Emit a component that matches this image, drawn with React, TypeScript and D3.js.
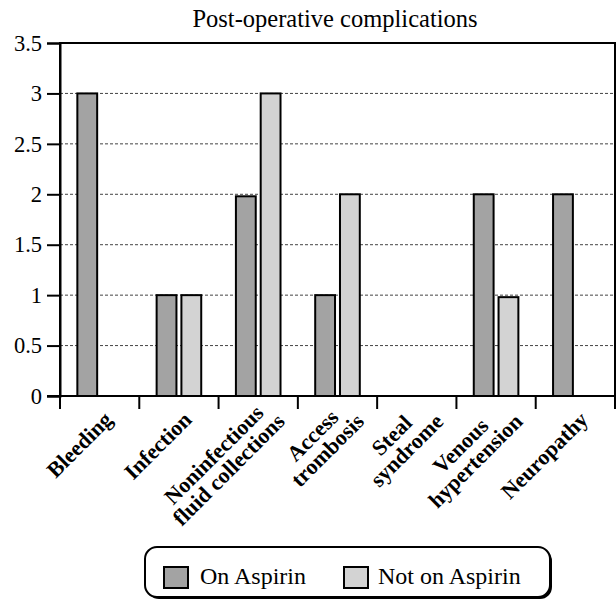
import React, { useRef, useEffect } from "react";
import * as d3 from "d3";

const categories = [
  ["Bleeding"],
  ["Infection"],
  ["Noninfectious", "fluid collections"],
  ["Access", "trombosis"],
  ["Steal", "syndrome"],
  ["Venous", "hypertension"],
  ["Neuropathy"],
];
const seriesNames = ["On Aspirin", "Not on Aspirin"];
const onAspirin = [3, 1, 1.98, 1, 0, 2, 2];
const notOnAspirin = [0, 1, 3, 2, 0, 0.98, 0];
const yTicks = [0, 0.5, 1, 1.5, 2, 2.5, 3, 3.5];

const colors = ["#a3a3a3", "#d3d3d3"];
const font = "Liberation Serif, Times New Roman, serif";

const App = () => {
  const svgRef = useRef(null);

  useEffect(() => {
    const width = 616;
    const height = 611;
    const m = { left: 60, right: 615, top: 43, bottom: 396 };

    const svg = d3
      .select(svgRef.current)
      .attr("width", width)
      .attr("height", height)
      .attr("font-family", font);
    svg.selectAll("*").remove();

    const keys = categories.map((c) => c.join(" "));
    const x0 = d3.scaleBand().domain(keys).range([m.left, m.right]).padding(0);
    const x1 = d3
      .scaleBand()
      .domain(seriesNames)
      .range([0, x0.bandwidth()])
      .paddingInner(0.2)
      .paddingOuter(0.7);
    const y = d3.scaleLinear().domain([0, 3.5]).range([m.bottom, m.top]);

    // title
    svg
      .append("text")
      .attr("x", 335)
      .attr("y", 27)
      .attr("text-anchor", "middle")
      .attr("font-size", 24.5)
      .text("Post-operative complications");

    // gridlines
    svg
      .append("g")
      .selectAll("line")
      .data(yTicks.filter((t) => t > 0 && t < 3.5))
      .enter()
      .append("line")
      .attr("x1", m.left)
      .attr("x2", m.right)
      .attr("y1", (d) => y(d))
      .attr("y2", (d) => y(d))
      .attr("stroke", "#444")
      .attr("stroke-width", 1)
      .attr("stroke-dasharray", "3,2");

    // bars
    const rows = keys.map((k, i) => ({ key: k, values: [onAspirin[i], notOnAspirin[i]] }));
    const groups = svg
      .append("g")
      .selectAll("g")
      .data(rows)
      .enter()
      .append("g")
      .attr("transform", (d) => `translate(${x0(d.key)},0)`);

    groups
      .selectAll("rect")
      .data((d) => d.values.map((v, j) => ({ name: seriesNames[j], value: v, j })))
      .enter()
      .filter((d) => d.value > 0)
      .append("rect")
      .attr("x", (d) => x1(d.name))
      .attr("y", (d) => y(d.value))
      .attr("width", x1.bandwidth())
      .attr("height", (d) => y(0) - y(d.value))
      .attr("fill", (d) => colors[d.j])
      .attr("stroke", "#000")
      .attr("stroke-width", 2);

    // frame
    svg
      .append("path")
      .attr("d", `M${m.left},${m.bottom}V${m.top}H${m.right}V${m.bottom}`)
      .attr("fill", "none")
      .attr("stroke", "#000")
      .attr("stroke-width", 2);

    // y axis
    const yAxis = svg
      .append("g")
      .attr("transform", `translate(${m.left},0)`)
      .call(d3.axisLeft(y).tickValues(yTicks).tickSize(13).tickPadding(5).tickFormat(d3.format("")));
    yAxis.attr("font-family", font).attr("font-size", 22.5);
    yAxis.select(".domain").attr("stroke-width", 2);
    yAxis.selectAll(".tick line").attr("stroke-width", 2);
    yAxis.selectAll("text").attr("fill", "#000");

    // x axis
    const xAxis = svg
      .append("g")
      .attr("transform", `translate(0,${m.bottom})`)
      .call(d3.axisBottom(x0).tickValues([]).tickSizeOuter(0));
    xAxis.select(".domain").attr("stroke-width", 2).attr("d", `M${m.left - 13},0H${m.right}`);
    svg
      .append("g")
      .selectAll("line")
      .data(d3.range(keys.length + 1))
      .enter()
      .append("line")
      .attr("x1", (i) => m.left + i * x0.step())
      .attr("x2", (i) => m.left + i * x0.step())
      .attr("y1", m.bottom)
      .attr("y2", m.bottom + 13)
      .attr("stroke", "#000")
      .attr("stroke-width", 2);

    // x labels: block right-aligned at anchor, lines centred within block
    const lineH = 21;
    const fs = 22;
    const labels = svg
      .append("g")
      .selectAll("g")
      .data(categories)
      .enter()
      .append("g")
      .attr("transform", (d, i) => `translate(${x0(keys[i]) + x0.bandwidth() / 2 + 14},${m.bottom + 25}) rotate(-45)`)
      .attr("font-size", fs)
      .attr("font-weight", "bold");
    labels.each(function (d) {
      const g = d3.select(this);
      const n = d.length;
      const texts = d.map((t, k) =>
        g
          .append("text")
          .attr("text-anchor", "middle")
          .attr("y", k * lineH - 10 * (n - 1))
          .text(t)
      );
      const w = d3.max(texts, (t) => t.node().getComputedTextLength());
      texts.forEach((t) => t.attr("x", -w / 2 + 8.5 * (n - 1)));
    });

    // legend
    const lg = svg.append("g");
    lg.append("rect")
      .attr("x", 147)
      .attr("y", 549)
      .attr("width", 405)
      .attr("height", 50)
      .attr("rx", 12)
      .attr("fill", "#000");
    lg.append("rect")
      .attr("x", 145)
      .attr("y", 547)
      .attr("width", 405)
      .attr("height", 50)
      .attr("rx", 12)
      .attr("fill", "#fff")
      .attr("stroke", "#000")
      .attr("stroke-width", 2);
    const items = [
      { name: seriesNames[0], sx: 164, tx: 200 },
      { name: seriesNames[1], sx: 344, tx: 378 },
    ];
    items.forEach((it, i) => {
      lg.append("rect")
        .attr("x", it.sx)
        .attr("y", 567)
        .attr("width", 24)
        .attr("height", 21)
        .attr("fill", colors[i])
        .attr("stroke", "#000")
        .attr("stroke-width", 2);
      lg.append("text")
        .attr("x", it.tx)
        .attr("y", 584)
        .attr("font-size", 24)
        .text(it.name);
    });
  }, []);

  return (
    <div style={{ position: "absolute", left: 0, top: 0 }}>
      <svg ref={svgRef}></svg>
    </div>
  );
};

export default App;
